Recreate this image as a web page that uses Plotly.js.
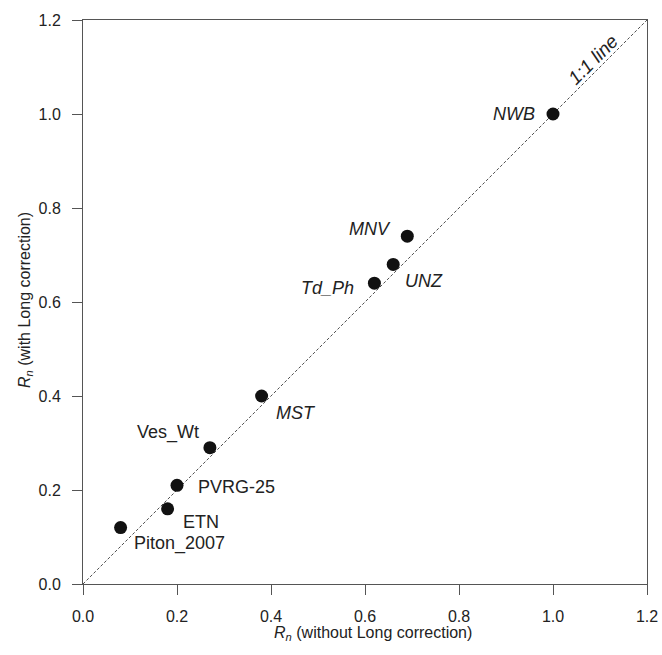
<!DOCTYPE html>
<html>
<head>
<meta charset="utf-8">
<script src="https://cdn.plot.ly/plotly-3.0.1.min.js"></script>
<style>html,body{margin:0;padding:0;background:#fff;}#chart{width:662px;height:655px;}</style>
</head>
<body>
<div id="chart"></div>
<script>
// Data
var sites = ["Piton_2007", "ETN", "PVRG-25", "Ves_Wt", "MST", "Td_Ph", "UNZ", "MNV", "NWB"];
var rnWithout = [0.08, 0.18, 0.20, 0.27, 0.38, 0.62, 0.66, 0.69, 1.00];
var rnWith    = [0.12, 0.16, 0.21, 0.29, 0.40, 0.64, 0.68, 0.74, 1.00];
var oneToOneX = [0, 1.2];
var oneToOneY = [0, 1.2];
var tickVals = [0, 0.2, 0.4, 0.6, 0.8, 1.0, 1.2];
var tickText = ["0.0", "0.2", "0.4", "0.6", "0.8", "1.0", "1.2"];
var xTitle = "<i>R<sub>n</sub></i> (without Long correction)";
var yTitle = "<i>R<sub>n</sub></i> (with Long correction)";

// Label placement (pixel offsets from the point) and style
var labelStyle = {
  "Piton_2007": {anchor: "left",  dx: 11,  dy: 16, italic: false},
  "ETN":        {anchor: "left",  dx: 13,  dy: 13, italic: false},
  "PVRG-25":    {anchor: "left",  dx: 19,  dy: 2,  italic: false},
  "Ves_Wt":     {anchor: "right", dx: -9,  dy: -15, italic: false},
  "MST":        {anchor: "left",  dx: 12,  dy: 17, italic: true},
  "Td_Ph":      {anchor: "right", dx: -18, dy: 5,  italic: true},
  "UNZ":        {anchor: "left",  dx: 10,  dy: 17, italic: true},
  "MNV":        {anchor: "right", dx: -14, dy: -7, italic: true},
  "NWB":        {anchor: "right", dx: -16, dy: 0,  italic: true}
};

var FONT = "Liberation Sans, Arial, Helvetica, sans-serif";
var TXT = "#222";

var traces = [
  {
    x: oneToOneX, y: oneToOneY, mode: "lines", type: "scatter",
    line: {color: "#222", width: 0.8, dash: "3px,2px"},
    hoverinfo: "skip", showlegend: false
  },
  {
    x: rnWithout, y: rnWith, mode: "markers", type: "scatter",
    marker: {color: "#111", size: 13},
    text: sites, showlegend: false
  }
];

var annotations = sites.map(function (s, i) {
  var st = labelStyle[s];
  return {
    x: rnWithout[i], y: rnWith[i], xref: "x", yref: "y",
    text: st.italic ? "<i>" + s + "</i>" : s,
    showarrow: false, xanchor: st.anchor, yanchor: "middle",
    xshift: st.dx, yshift: -st.dy,
    font: {family: FONT, size: 18, color: TXT}
  };
});
annotations.push({
  x: 1.085, y: 1.117, xref: "x", yref: "y",
  text: "<i>1:1 line</i>", showarrow: false, textangle: -45,
  font: {family: FONT, size: 19, color: TXT}
});
// Axis titles
annotations.push({
  x: 373 / 662, y: 1 - 633 / 655, xref: "paper", yref: "paper",
  text: xTitle, showarrow: false, xanchor: "center", yanchor: "middle",
  font: {family: FONT, size: 16, color: TXT}
});
annotations.push({
  x: 25 / 662, y: 1 - 300 / 655, xref: "paper", yref: "paper",
  text: yTitle, showarrow: false, textangle: -90, xanchor: "center", yanchor: "middle",
  font: {family: FONT, size: 16, color: TXT}
});

var axisCommon = {
  range: [0, 1.2], tickvals: tickVals, ticktext: tickText,
  showline: true, mirror: true, linecolor: "#555", linewidth: 1,
  ticks: "outside", ticklen: 10, tickcolor: "#555", tickwidth: 1,
  showgrid: false, zeroline: false,
  tickfont: {family: FONT, size: 16, color: TXT}
};

var layout = {
  width: 662, height: 655,
  margin: {l: 83, r: 15, t: 20, b: 71},
  paper_bgcolor: "#fff", plot_bgcolor: "#fff",
  font: {family: FONT, color: TXT},
  xaxis: Object.assign({}, axisCommon, {ticklabelstandoff: 8}),
  yaxis: Object.assign({}, axisCommon, {ticklabelstandoff: 8}),
  annotations: annotations
};
// remove normalisation rounding: annotation paper coords are relative to plot area
layout.annotations.forEach(function (a) {
  if (a.xref === "paper") {
    var px = a.x * 662, py = (1 - a.y) * 655;
    a.x = (px - 83) / (662 - 83 - 15);
    a.y = 1 - (py - 20) / (655 - 20 - 71);
  }
});

Plotly.newPlot("chart", traces, layout, {displayModeBar: false, staticPlot: true});
</script>
</body>
</html>
